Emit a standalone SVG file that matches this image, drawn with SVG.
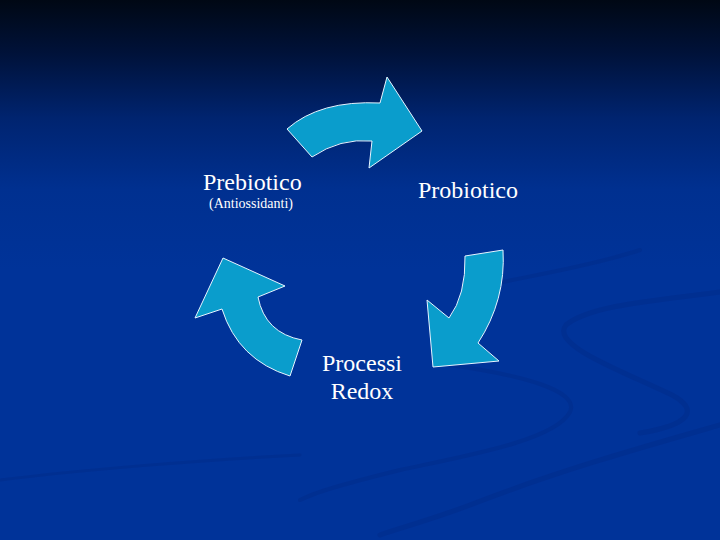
<svg xmlns="http://www.w3.org/2000/svg" width="720" height="540" viewBox="0 0 720 540">
  <defs>
    <linearGradient id="bg" x1="0" y1="0" x2="0" y2="1">
      <stop offset="0" stop-color="#000814"/>
      <stop offset="0.1" stop-color="#00123a"/>
      <stop offset="0.22" stop-color="#002470"/>
      <stop offset="0.35" stop-color="#003090"/>
      <stop offset="0.5" stop-color="#003399"/>
      <stop offset="1" stop-color="#003399"/>
    </linearGradient>
    <style>
      .arrow { fill: #0a9dcc; stroke: #e6f4ff; stroke-width: 1; stroke-linejoin: miter; }
      .lbl { font-family: "Liberation Serif", "Times New Roman", serif; fill: #ffffff; }
      .big { font-size: 24px; }
      .small { font-size: 14px; }
      .swoosh { fill: none; stroke: #002c8a; stroke-linecap: round; }
    </style>
  </defs>
  <rect x="0" y="0" width="720" height="540" fill="url(#bg)"/>
  <g id="background-swooshes" opacity="0.5">
    <path class="swoosh" stroke-width="5" d="M720 292 C660 300 590 305 566 325 C550 345 620 370 672 395 C700 410 690 425 640 433"/>
    <path class="swoosh" stroke-width="4" d="M640 250 C580 270 500 280 470 290"/>
    <path class="swoosh" stroke-width="5" d="M720 425 C650 445 560 470 470 505 C430 520 400 528 380 535"/>
    <path class="swoosh" stroke-width="4" d="M450 365 C520 375 580 390 570 412 C555 440 470 455 400 470 C360 480 320 490 300 500"/>
    <path class="swoosh" stroke-width="3" d="M0 480 C80 470 200 460 300 455"/>
  </g>
  <g id="connectors">
    <path class="arrow" d="M287 129 Q320 100 380 103 L387 77 L422 131 L369 168 L372 141 Q340 138 312 157 Z"/>
    <path class="arrow" d="M503 250 Q506 300 478 343 L499 361 L433 367 L427 300 L449 318 Q466 295 465 256 Z"/>
    <path class="arrow" d="M290 376 Q238 360 222 309 L195 318 L223 258 L285 286 L258 297 Q265 333 302 340 Z"/>
  </g>
  <g id="node-prebiotico">
    <text class="lbl big" x="203" y="190">Prebiotico</text>
    <text class="lbl small" x="209" y="208">(Antiossidanti)</text>
  </g>
  <g id="node-probiotico">
    <text class="lbl big" x="418" y="198">Probiotico</text>
  </g>
  <g id="node-redox">
    <text class="lbl big" x="362" y="371" text-anchor="middle">Processi</text>
    <text class="lbl big" x="362" y="399" text-anchor="middle">Redox</text>
  </g>
</svg>
